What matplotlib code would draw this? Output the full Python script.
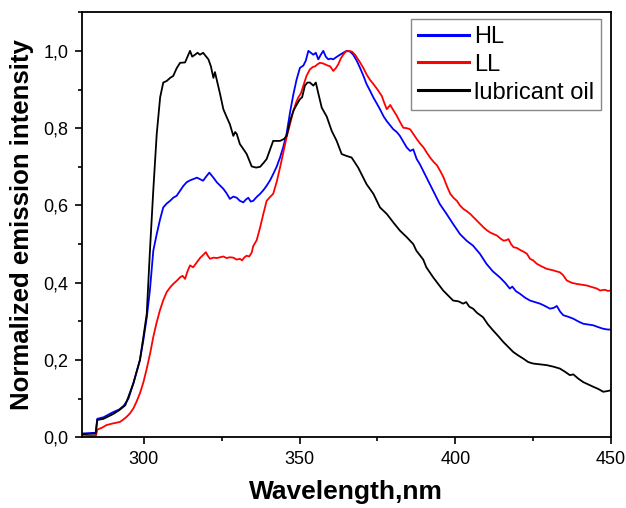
import matplotlib
matplotlib.use("Agg")
import matplotlib.pyplot as plt
from matplotlib.ticker import MultipleLocator

plt.rcParams['font.family'] = ['Liberation Sans', 'DejaVu Sans']

# lubricant oil (black)
oil_x = [280, 284.5, 285, 287, 290, 292, 294, 296.6, 298.7, 300, 300.9, 301.9, 303, 304.1, 305.2,
         306.2, 307.3, 308.4, 309.4, 310.5, 311.6, 313.2, 314.8, 315.5, 316.4, 317.2, 318, 319,
         320.7, 321.5, 322.3, 322.8, 324.4, 325.5, 326.5, 327.6, 328.7, 329.3, 329.8, 330.8, 332,
         333, 334.6, 336, 337.3, 338.4, 339.4, 341.5, 343.7, 345, 345.8, 347, 348, 349, 350.1,
         350.8, 351.7, 352.5, 353.3, 354.4, 355.2, 356, 357.1, 358.7, 360.3, 361.9, 363.5, 365.1,
         366.7, 368.8, 371.5, 373.7, 375.8, 378, 380.1, 382.2, 384.4, 386.5, 387.5, 389.7, 390.7,
         392.9, 396.1, 399.3, 401, 402.5, 403.5, 404.5, 405.7, 407, 408.9, 410.5, 412.1, 413.8,
         415.4, 418.6, 420.2, 421.8, 423.4, 425, 429.3, 431.5, 433.6, 435.2, 436.8, 437.9, 439.5,
         441.1, 444.3, 446, 447.5, 449, 450]
oil_y = [0.008, 0.01, 0.045, 0.048, 0.06, 0.07, 0.083, 0.14, 0.2, 0.27, 0.32, 0.48, 0.64, 0.785, 0.88,
         0.918, 0.922, 0.93, 0.935, 0.955, 0.969, 0.97, 1.0, 0.985, 0.99, 0.995, 0.99, 0.995,
         0.978, 0.96, 0.93, 0.945, 0.89, 0.849, 0.83, 0.81, 0.78, 0.79, 0.785, 0.759, 0.745,
         0.733, 0.701, 0.698, 0.70, 0.71, 0.72, 0.767, 0.767, 0.772, 0.78, 0.82, 0.845, 0.86, 0.875,
         0.88, 0.91, 0.918, 0.918, 0.91, 0.918, 0.89, 0.853, 0.83, 0.793, 0.767, 0.733, 0.728,
         0.724, 0.698, 0.655, 0.63, 0.595, 0.578, 0.556, 0.535, 0.518, 0.5, 0.483, 0.46, 0.44,
         0.414, 0.38, 0.354, 0.352, 0.346, 0.35, 0.338, 0.333, 0.322, 0.311, 0.292, 0.277, 0.262,
         0.247, 0.221, 0.212, 0.204, 0.195, 0.191, 0.187, 0.183, 0.178, 0.17, 0.161, 0.163, 0.152,
         0.143, 0.131, 0.125, 0.118, 0.12, 0.122]

# HL (blue)
hl_x = [280, 284.5, 285, 287, 290, 292, 293.5, 295, 296.6, 298.7, 299.8, 300.9, 301.9, 303, 304.1,
        305.2, 306.2, 307.3, 308.4, 309.4, 310.5, 311.6, 312.6, 313.7, 314.8, 315.8, 317, 318, 319,
        320, 321, 322.3, 323.4, 324.4, 325.5, 326.5, 327.6, 328.7, 329.8, 330.8, 331.9, 332.7,
        333.5, 334.3, 335.1, 336.2, 337.3, 338.4, 339.4, 340.5, 341.5, 342.6, 343.7, 344.7, 345.8,
        346.9, 348, 349, 350.1, 351.2, 352, 352.8, 353.6, 354.4, 355.2, 356, 356.8, 357.6, 358.4,
        359.2, 360, 360.8, 362, 363, 364, 365.1, 366.2, 367.2, 368.3, 369.4, 370.5, 371.5, 372.6,
        373.7, 374.7, 375.8, 377, 378, 379, 380.1, 381.2, 382.2, 383.3, 384.4, 385.5, 386.5, 387.6,
        388.6, 390.7, 392.9, 395, 397.2, 399.3, 401.5, 403.6, 405.7, 407.9, 410, 412, 414.3, 416,
        417.5, 418.3, 419.5, 420.7, 422.3, 424, 425.6, 427.2, 428.8, 430.4, 431.6, 432.6, 433.7,
        434.7, 436.3, 437.9, 439.5, 441.1, 442.7, 444.3, 446, 447.5, 449, 450]
hl_y = [0.01, 0.012, 0.048, 0.052, 0.065, 0.072, 0.082, 0.1, 0.14, 0.2, 0.251, 0.31, 0.38, 0.483, 0.526,
        0.565, 0.595, 0.605, 0.612, 0.62, 0.625, 0.638, 0.65, 0.66, 0.665, 0.668, 0.672, 0.668, 0.664,
        0.675, 0.685, 0.672, 0.66, 0.652, 0.643, 0.632, 0.617, 0.623, 0.62, 0.612, 0.608, 0.615,
        0.62, 0.61, 0.612, 0.622, 0.63, 0.64, 0.651, 0.665, 0.681, 0.7, 0.724, 0.75, 0.785,
        0.84, 0.888, 0.925, 0.956, 0.962, 0.975, 1.0, 0.995, 0.99, 0.995, 0.978, 0.99, 1.0, 0.985,
        0.978, 0.98, 0.978, 0.985, 0.99, 0.995, 1.0, 0.998, 0.99, 0.975, 0.956, 0.935, 0.914, 0.897,
        0.879, 0.865, 0.849, 0.83, 0.818, 0.808, 0.797, 0.79, 0.78, 0.765, 0.75, 0.741, 0.745, 0.72,
        0.707, 0.673, 0.638, 0.604, 0.578, 0.552, 0.526, 0.509, 0.496, 0.475, 0.449, 0.43, 0.414, 0.4,
        0.385, 0.39, 0.378, 0.372, 0.362, 0.354, 0.35, 0.346, 0.34, 0.333, 0.335, 0.34, 0.325,
        0.316, 0.312, 0.307, 0.3, 0.294, 0.292, 0.29, 0.285, 0.281, 0.279, 0.279]

# LL (red)
ll_x = [280, 284.6, 285, 286.5, 288, 290, 292.3, 293.5, 294.4, 295.5, 296.6, 297.6, 298.7, 299.8,
        300.9, 302, 303, 304, 305.1, 306.2, 307.3, 308.4, 309.4, 310.5, 311.6, 312.4, 313.2, 314,
        314.8, 315.8, 316.9, 318, 319, 319.9, 320.5, 321.2, 322.3, 323.4, 324.4, 325.5, 326.5,
        327.6, 328.7, 329.8, 330.8, 331.5, 332.3, 333, 333.8, 334.6, 335.1, 336.2, 337.3, 338.4,
        339.4, 340.5, 341.5, 342.6, 343.7, 344.7, 345.8, 346.9, 348, 348.8, 349.6, 350.4, 351.2,
        352.2, 353.3, 354.2, 355, 355.7, 356.5, 357.3, 358.2, 359, 359.8, 360.8, 361.6, 362.4,
        363.2, 364, 364.8, 365.7, 366.8, 367.8, 368.6, 369.4, 370.5, 371.5, 372.6, 373.7, 375,
        376.4, 377.2, 378, 378.6, 379.1, 380.2, 381.2, 382.3, 383.3, 384.4, 385.5, 386.5, 387.6,
        388.7, 389.8, 390.8, 391.9, 393, 394.1, 395.1, 396.2, 397.3, 398.4, 399.4, 400.5, 401.5,
        402.6, 403.7, 404.8, 405.8, 406.9, 408, 409.1, 410.1, 411.2, 412.3, 413.4, 414.4, 415.5,
        416.3, 417.1, 417.9, 418.7, 419.8, 420.8, 422, 423, 424, 425, 426.2, 427.8, 429.4, 431.5,
        433.6, 434.6, 435.8, 437.4, 439, 440.6, 442.2, 444.3, 445.5, 446.5, 448, 449, 450]
ll_y = [0.003, 0.005, 0.02, 0.025, 0.032, 0.036, 0.04, 0.047, 0.053, 0.062, 0.075, 0.092, 0.114, 0.142,
        0.178, 0.218, 0.26, 0.295, 0.328, 0.355, 0.376, 0.388, 0.397, 0.405, 0.414, 0.418, 0.41, 0.43,
        0.445, 0.44, 0.452, 0.464, 0.472, 0.479, 0.47, 0.462, 0.465, 0.464, 0.466, 0.468, 0.464,
        0.466, 0.465, 0.46, 0.462, 0.458, 0.466, 0.47, 0.468, 0.478, 0.495, 0.51, 0.543, 0.58,
        0.612, 0.622, 0.63, 0.66, 0.698, 0.735, 0.776, 0.81, 0.845, 0.865, 0.88, 0.89, 0.91,
        0.935, 0.952, 0.958, 0.96, 0.965, 0.969, 0.968, 0.965, 0.962, 0.96, 0.948, 0.955, 0.965,
        0.98, 0.99, 0.998, 1.0, 0.998, 0.99, 0.98, 0.97, 0.955, 0.939, 0.925, 0.914, 0.9,
        0.883, 0.865, 0.849, 0.855, 0.86, 0.845, 0.832, 0.815, 0.801, 0.8, 0.797, 0.785, 0.772,
        0.76, 0.75, 0.737, 0.724, 0.713, 0.704, 0.69, 0.673, 0.65, 0.63, 0.62, 0.612, 0.6,
        0.591, 0.585, 0.578, 0.57, 0.561, 0.552, 0.543, 0.536, 0.53, 0.526, 0.522, 0.515, 0.509,
        0.51, 0.513, 0.5, 0.492, 0.49, 0.485, 0.48, 0.475, 0.462, 0.458, 0.449, 0.442, 0.436, 0.432,
        0.427, 0.42, 0.406, 0.4, 0.397, 0.395, 0.393, 0.388, 0.385, 0.38, 0.382, 0.379, 0.38]

y_ticks = [0.0, 0.2, 0.4, 0.6, 0.8, 1.0]
y_ticklabels = ["0,0", "0,2", "0,4", "0,6", "0,8", "1,0"]
x_ticks = [300, 350, 400, 450]

fig = plt.figure(figsize=(6.26, 5.08), dpi=100)
ax = fig.add_axes([0.1305, 0.139, 0.8455, 0.837])

ax.plot(hl_x, hl_y, color='#0000ff', lw=1.3, label='HL')
ax.plot(ll_x, ll_y, color='#ff0000', lw=1.3, label='LL')
ax.plot(oil_x, oil_y, color='black', lw=1.3, label='lubricant oil')

ax.set_xlim(280, 450)
ax.set_ylim(0, 1.1)
ax.set_xticks(x_ticks)
ax.set_yticks(y_ticks)
ax.set_yticklabels(y_ticklabels)
ax.xaxis.set_minor_locator(MultipleLocator(25))
ax.yaxis.set_minor_locator(MultipleLocator(0.1))
ax.tick_params(which='major', direction='out', length=5, width=1.2, labelsize=13, pad=4.5)
ax.tick_params(which='minor', direction='out', length=3, width=1.2)
for s in ax.spines.values():
    s.set_linewidth(1.3)

ax.set_xlabel('Wavelength,nm', fontsize=19, fontweight='bold', labelpad=9)
ax.set_ylabel('Normalized emission intensity', fontsize=18.5, fontweight='bold', labelpad=7)

leg = ax.legend(loc='upper right', bbox_to_anchor=(0.981, 0.9835), borderaxespad=0,
                fontsize=17, handlelength=2.2, handletextpad=0.2, labelspacing=0.25,
                borderpad=0.28, fancybox=False, framealpha=1, edgecolor='#888888')
for line in leg.get_lines():
    line.set_linewidth(2.2)
leg.get_frame().set_linewidth(1.0)

fig.savefig('out.png', dpi=100)
